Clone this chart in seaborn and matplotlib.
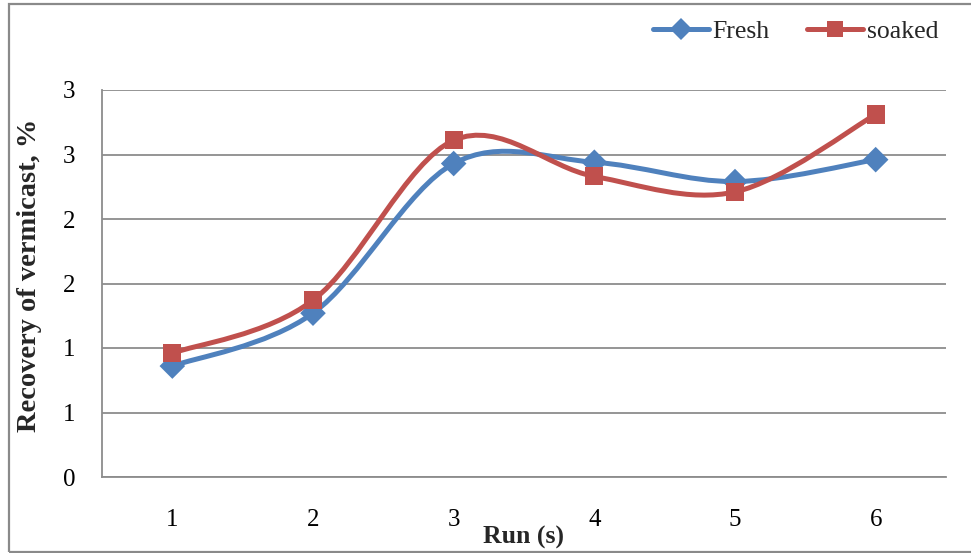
import numpy as np
import pandas as pd
import seaborn as sns
import matplotlib
matplotlib.use("Agg")
import matplotlib.pyplot as plt
from matplotlib.path import Path
from matplotlib.patches import PathPatch, Rectangle
from matplotlib.lines import Line2D
from matplotlib.ticker import FixedLocator, FuncFormatter

# Recovery of vermicast per run
runs = [1, 2, 3, 4, 5, 6]
fresh = [0.86, 1.27, 2.43, 2.44, 2.29, 2.46]
soaked = [0.96, 1.37, 2.61, 2.33, 2.21, 2.81]
series_names = ["Fresh", "soaked"]
y_ticks = [0.0, 0.5, 1.0, 1.5, 2.0, 2.5, 3.0]

BLUE = "#4F81BD"
RED = "#C0504D"
GRID = "#8C8C8C"

df = pd.DataFrame({
    "Run": runs * 2,
    "Recovery": fresh + soaked,
    "Series": [series_names[0]] * len(runs) + [series_names[1]] * len(runs),
})

sns.set_theme(style="white")
plt.rcParams["font.family"] = ["Liberation Serif", "DejaVu Serif"]

fig = plt.figure(figsize=(9.71, 5.53), dpi=100)
ax = fig.add_axes([102 / 971, 1 - 477 / 553, 844 / 971, 387 / 553])


def smooth_path(xs, ys):
    """Cubic Bezier path through the points (Catmull-Rom style tangents)."""
    pts = np.column_stack([xs, ys]).astype(float)
    n = len(pts)
    verts = [pts[0]]
    codes = [Path.MOVETO]
    for i in range(n - 1):
        p0 = pts[i - 1] if i > 0 else pts[i]
        p1 = pts[i]
        p2 = pts[i + 1]
        p3 = pts[i + 2] if i + 2 < n else pts[i + 1]
        c1 = p1 + (p2 - p0) / 6.0
        c2 = p2 - (p3 - p1) / 6.0
        verts += [c1, c2, p2]
        codes += [Path.CURVE4] * 3
    return Path(verts, codes)


# Smoothed connecting curves
for vals, col in [(fresh, BLUE), (soaked, RED)]:
    ax.add_patch(PathPatch(smooth_path(runs, vals), facecolor="none",
                           edgecolor=col, lw=3.6, capstyle="round",
                           joinstyle="round", zorder=3))

# Markers
sns.scatterplot(data=df, x="Run", y="Recovery", hue="Series", style="Series",
                markers={"Fresh": "D", "soaked": "s"},
                palette={"Fresh": BLUE, "soaked": RED},
                s=170, linewidth=0, legend=False, ax=ax, zorder=4)

ax.set_xlim(0.5, 6.5)
ax.set_ylim(0, 3.0)
ax.set_xticks(runs)
ax.set_xticklabels([str(r) for r in runs])
ax.yaxis.set_major_locator(FixedLocator(y_ticks))
ax.yaxis.set_major_formatter(FuncFormatter(lambda v, p: "%d" % int(np.floor(v + 0.5))))
ax.grid(axis="y", color=GRID, lw=1.3)
ax.set_axisbelow(True)
for side in ["top", "right"]:
    ax.spines[side].set_visible(False)
for side in ["left", "bottom"]:
    ax.spines[side].set_color(GRID)
    ax.spines[side].set_linewidth(1.3)
ax.tick_params(axis="both", length=0, labelsize=18, colors="black")
ax.tick_params(axis="y", pad=19)
ax.tick_params(axis="x", pad=23)

ax.set_xlabel("Run (s)", fontsize=18.5, fontweight="bold")
ax.xaxis.set_label_coords((523 - 102) / 844, (477 - 537) / 387)
ax.xaxis.label.set_va("center")
ax.set_ylabel("Recovery of vermicast, %", fontsize=20.5, fontweight="bold")
ax.yaxis.set_label_coords((30 - 102) / 844, (477 - 275) / 387)
ax.yaxis.label.set_va("center")

handles = [
    Line2D([], [], color=BLUE, lw=3.6, marker="D", markersize=11, markeredgewidth=0),
    Line2D([], [], color=RED, lw=3.6, marker="s", markersize=12, markeredgewidth=0),
]
fig.legend(handles, series_names, loc="center right",
           bbox_to_anchor=(938 / 971, 1 - 32 / 553), ncol=2, frameon=False,
           fontsize=18.5, handlelength=2.2, handletextpad=0.12, columnspacing=1.45,
           borderaxespad=0, borderpad=0)

# Chart frame (runs past the right edge of the image)
fig.patches.append(Rectangle((8.5 / 971, 1 - 551.5 / 553), 1.1, 547.5 / 553,
                             transform=fig.transFigure, fill=False,
                             edgecolor="#8A8A8A", lw=1.6, zorder=0))

fig.savefig("out.png", dpi=100, facecolor="white")
